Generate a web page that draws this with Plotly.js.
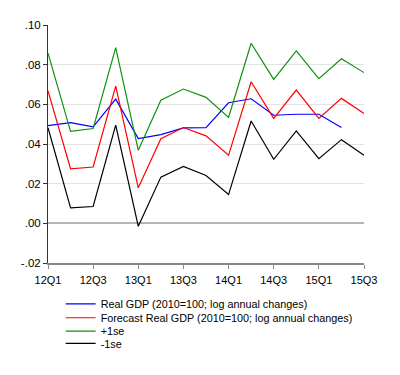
<!DOCTYPE html>
<html><head><meta charset="utf-8">
<script src="https://cdn.plot.ly/plotly-3.0.1.min.js"></script>
<style>html,body{margin:0;padding:0;background:#fff}#chart{width:400px;height:375px}</style>
</head><body><div id="chart"></div>
<script>
const quarters = ["12Q1","12Q2","12Q3","12Q4","13Q1","13Q2","13Q3","13Q4","14Q1","14Q2","14Q3","14Q4","15Q1","15Q2","15Q3"];
const tickQuarters = ["12Q1","12Q3","13Q1","13Q3","14Q1","14Q3","15Q1","15Q3"];
const realGDP = [0.0493,0.0508,0.0486,0.0626,0.0427,0.0447,0.0481,0.0483,0.0608,0.0628,0.0545,0.0550,0.0550,0.0483];
const forecast = [0.0668,0.0275,0.0284,0.0692,0.0179,0.0427,0.0483,0.0441,0.0343,0.0714,0.0529,0.0672,0.0529,0.0630,0.0554];
const plus1se = [0.0858,0.0464,0.0478,0.0886,0.0368,0.0621,0.0677,0.0635,0.0534,0.0908,0.0726,0.0869,0.0729,0.0830,0.0760];
const minus1se = [0.0482,0.0078,0.0085,0.0495,-0.0015,0.0233,0.0287,0.0241,0.0145,0.0516,0.0323,0.0466,0.0326,0.0422,0.0343];
const yTicks = [-0.02,0.00,0.02,0.04,0.06,0.08,0.10];
const yTickText = ["-.02",".00",".02",".04",".06",".08",".10"];
const names = ["Real GDP (2010=100; log annual changes)","Forecast Real GDP (2010=100; log annual changes)","+1se","-1se"];

const legendIds = ["legend","legend2","legend3","legend4"];
const mk = (y, i, color) => ({x: quarters.slice(0, y.length), y: y, name: names[i], type: "scatter", mode: "lines",
  legend: legendIds[i], line: {color: color, width: 1.2}});
const data = [
  mk(realGDP, 0, "#0000ff"),
  mk(forecast, 1, "#ff0000"),
  mk(plus1se, 2, "#119111"),
  mk(minus1se, 3, "#000000")
];
const legendY = [-0.172, -0.230, -0.286, -0.338];
const legendBase = {x: 0.04, xanchor: "left", yanchor: "middle", font: {size: 10.8},
  itemwidth: 30, bgcolor: "rgba(0,0,0,0)", borderwidth: 0};
const layout = {
  width: 400, height: 375,
  margin: {l: 48, r: 36, t: 25, b: 112},
  paper_bgcolor: "#fff", plot_bgcolor: "#fff",
  font: {family: "Liberation Sans, Arial, sans-serif", size: 11, color: "#000"},
  showlegend: true,
  xaxis: {type: "category", categoryarray: quarters, range: [0, 14],
    tickvals: tickQuarters, ticktext: tickQuarters,
    ticks: "outside", ticklen: 4, tickcolor: "#888", showgrid: false, ticklabelstandoff: 2,
    showline: true, linecolor: "#888", linewidth: 2, zeroline: false, tickfont: {size: 11}},
  yaxis: {range: [-0.02, 0.10], tickvals: yTicks, ticktext: yTickText,
    ticks: "outside", ticklen: 4, tickcolor: "#333", showline: true, linecolor: "#333", linewidth: 1,
    showgrid: true, gridcolor: "#e3e3e3", gridwidth: 1,
    zeroline: true, zerolinecolor: "#b5b5b5", zerolinewidth: 2, tickfont: {size: 11.5}}
};
legendIds.forEach((id, i) => { layout[id] = Object.assign({}, legendBase, {y: legendY[i]}); });
Plotly.newPlot("chart", data, layout, {displayModeBar: false, staticPlot: true});
</script></body></html>
